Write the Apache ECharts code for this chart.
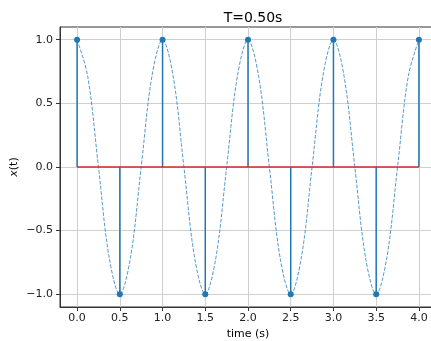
<!DOCTYPE html>
<html>
<head>
<meta charset="utf-8">
<script src="https://cdn.jsdelivr.net/npm/echarts@6/dist/echarts.min.js"></script>
<style>
	html, body { margin: 0; padding: 0; background: #fff; }
	#chartDiv { width: 431px; height: 341px; }
</style>
</head>
<body>
<div id="chartDiv"></div>
<script>
// sampled points (T = 0.50s)
var sampleT = [0, 0.5, 1, 1.5, 2, 2.5, 3, 3.5, 4];
var sampleX = [1, -1, 1, -1, 1, -1, 1, -1, 1];

// dashed continuous curve, every 0.125 s
var curveT = [0, 0.125, 0.25, 0.375, 0.5, 0.625, 0.75, 0.875,
	1, 1.125, 1.25, 1.375, 1.5, 1.625, 1.75, 1.875,
	2, 2.125, 2.25, 2.375, 2.5, 2.625, 2.75, 2.875,
	3, 3.125, 3.25, 3.375, 3.5, 3.625, 3.75, 3.875, 4];
var curveX = [1, 0.71, 0, -0.71, -1, -0.71, 0, 0.71,
	1, 0.71, 0, -0.71, -1, -0.71, 0, 0.71,
	1, 0.71, 0, -0.71, -1, -0.71, 0, 0.71,
	1, 0.71, 0, -0.71, -1, -0.71, 0, 0.71, 1];

var xTicks = [0, 0.5, 1, 1.5, 2, 2.5, 3, 3.5, 4];
var yTicks = [-1, -0.5, 0, 0.5, 1];

var chart = echarts.init(document.getElementById('chartDiv'));

function fmt(v) {
	return v.toFixed(1).replace('-', '\u2212');
}

var curveData = [];
for (var i = 0; i < curveT.length; i++) {
	curveData.push([curveT[i], curveX[i]]);
}
var stemData = [];
for (var i = 0; i < sampleT.length; i++) {
	stemData.push([sampleT[i], sampleX[i]]);
}
var baseData = [[sampleT[0], 0], [sampleT[sampleT.length - 1], 0]];

var font = 'DejaVu Sans';

var option = {
	animation: false,
	title: {
		text: 'T=0.50s',
		left: 248,
		textAlign: 'center',
		top: 6,
		textStyle: {
			fontFamily: font,
			fontSize: 14,
			fontWeight: 'normal',
			color: '#000'
		}
	},
	grid: {
		left: 60,
		right: -5,
		top: 27,
		bottom: 34,
		containLabel: false,
		outerBoundsMode: 'none',
		show: true,
		borderColor: '#333',
		borderWidth: 1,
		backgroundColor: 'transparent'
	},
	xAxis: {
		type: 'value',
		min: -0.2,
		max: 4.2,
		name: 'time (s)',
		nameLocation: 'middle',
		nameGap: 22,
		nameMoveOverlap: false,
		nameTextStyle: { fontFamily: font, fontSize: 11, color: '#000' },
		axisLine: { show: true, onZero: false, lineStyle: { color: '#333', width: 1 } },
		axisTick: { show: true, length: 4, customValues: xTicks, lineStyle: { color: '#333' } },
		axisLabel: {
			customValues: xTicks,
			margin: 6,
			fontFamily: font,
			fontSize: 11,
			color: '#222',
			formatter: function (v) { return fmt(v); }
		},
		splitLine: { show: true, lineStyle: { color: '#cfcfcf', width: 1 } }
	},
	yAxis: {
		type: 'value',
		min: -1.1,
		max: 1.1,
		name: '{i|x}(t)',
		nameLocation: 'middle',
		nameGap: 40,
		nameRotate: 90,
		nameMoveOverlap: false,
		nameTextStyle: {
			fontFamily: font,
			fontSize: 11,
			color: '#000',
			rich: { i: { fontFamily: font, fontSize: 11, fontStyle: 'italic', color: '#000' } }
		},
		axisLine: { show: true, onZero: false, lineStyle: { color: '#333', width: 1 } },
		axisTick: { show: true, length: 4, customValues: yTicks, lineStyle: { color: '#333' } },
		axisLabel: {
			customValues: yTicks,
			margin: 7,
			fontFamily: font,
			fontSize: 11,
			color: '#222',
			formatter: function (v) { return fmt(v); }
		},
		splitLine: { show: true, lineStyle: { color: '#cfcfcf', width: 1 } }
	},
	series: [
		{
			name: 'curve',
			type: 'line',
			data: curveData,
			smooth: 0.35,
			showSymbol: false,
			lineStyle: { color: '#1f77b4', width: 1, type: [3.7, 1.6], opacity: 0.75 },
			z: 2
		},
		{
			name: 'stems',
			type: 'custom',
			data: stemData,
			renderItem: function (params, api) {
				var p0 = api.coord([api.value(0), 0]);
				var p1 = api.coord([api.value(0), api.value(1)]);
				return {
					type: 'line',
					shape: { x1: p0[0], y1: p0[1], x2: p1[0], y2: p1[1] },
					style: { stroke: '#1f77b4', lineWidth: 1.5 }
				};
			},
			z: 3
		},
		{
			name: 'baseline',
			type: 'line',
			data: baseData,
			showSymbol: false,
			lineStyle: { color: '#d62728', width: 1.5 },
			z: 4
		},
		{
			name: 'markers',
			type: 'scatter',
			data: stemData,
			symbolSize: 6,
			itemStyle: { color: '#1f77b4', opacity: 1 },
			z: 5
		}
	]
};

chart.setOption(option);
</script>
</body>
</html>
